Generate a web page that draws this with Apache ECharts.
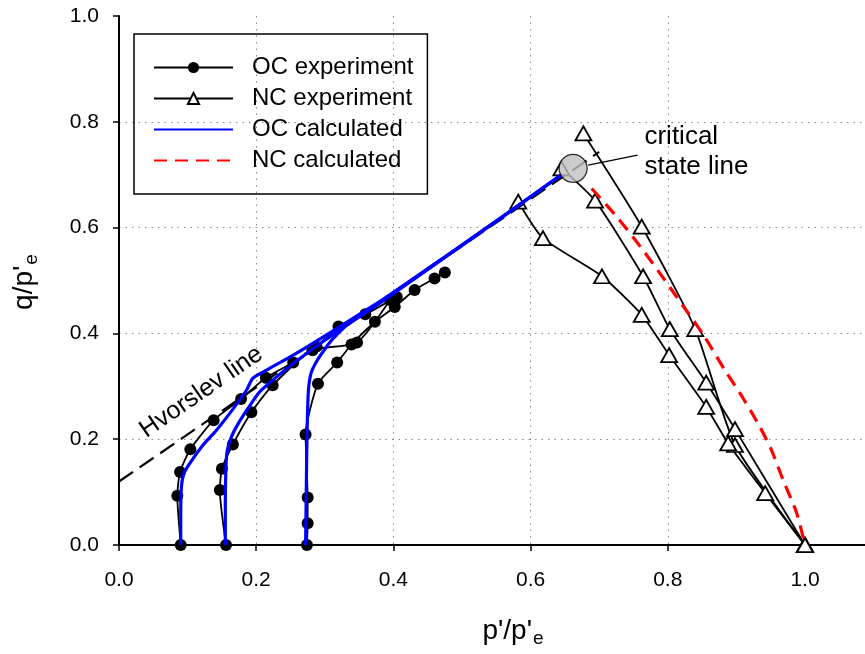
<!DOCTYPE html>
<html>
<head>
<meta charset="utf-8">
<script src="https://cdn.jsdelivr.net/npm/echarts@6/dist/echarts.min.js"></script>
<style>
  html, body { margin: 0; padding: 0; background: #fff; }
  #chart { width: 865px; height: 654px; }
</style>
</head>
<body>
<div id="chart"></div>
<script>
// Axis ticks
const xTicks = [0, 0.2, 0.4, 0.6, 0.8, 1.0];
const yTicks = [0, 0.2, 0.4, 0.6, 0.8, 1.0];
// visible end of the p'/p'e axis (the axis runs off the right edge)
const xEnd = 1.0875;

// Over-consolidated undrained tests: measured stress paths [p'/p'e, q/p'e]
const ocExpA = [[0.090,0],[0.085,0.093],[0.089,0.138],[0.104,0.181],[0.138,0.236],[0.178,0.276],[0.214,0.316],[0.254,0.345],[0.288,0.375],[0.320,0.413],[0.359,0.436],[0.405,0.469]];
const ocExpB = [[0.156,0],[0.147,0.104],[0.150,0.144],[0.166,0.190],[0.193,0.251],[0.224,0.302],[0.282,0.368],[0.347,0.383],[0.395,0.463]];
const ocExpC = [[0.274,0],[0.275,0.041],[0.275,0.090],[0.272,0.209],[0.290,0.305],[0.318,0.345],[0.339,0.379],[0.373,0.422],[0.402,0.450],[0.431,0.482],[0.460,0.504],[0.475,0.515]];

// Normally consolidated undrained tests: measured stress paths
const ncExp1 = [[1.0,0],[0.898,0.189],[0.840,0.408],[0.762,0.602],[0.677,0.778]];
const ncExp2 = [[1.0,0],[0.898,0.219],[0.856,0.307],[0.803,0.408],[0.764,0.508],[0.694,0.651],[0.645,0.712]];
const ncExp3 = [[1.0,0],[0.942,0.098],[0.888,0.192],[0.856,0.261],[0.802,0.359],[0.762,0.435],[0.704,0.508],[0.618,0.580],[0.582,0.649]];

// Model predictions
const ocCalcA = [[0.090,0],[0.090,0.060],[0.091,0.110],[0.094,0.133],[0.101,0.150],[0.120,0.185],[0.142,0.217],[0.165,0.255],[0.186,0.293],[0.195,0.315],[0.210,0.327],[0.254,0.359],[0.322,0.413],[0.395,0.473],[0.483,0.552],[0.560,0.622],[0.645,0.700]];
const ocCalcB = [[0.155,0],[0.155,0.080],[0.156,0.150],[0.158,0.180],[0.164,0.205],[0.174,0.230],[0.190,0.262],[0.2055,0.290],[0.254,0.343],[0.300,0.387],[0.337,0.420],[0.380,0.457],[0.483,0.551],[0.560,0.621],[0.645,0.700]];
const ocCalcC = [[0.272,0],[0.273,0.100],[0.274,0.200],[0.276,0.290],[0.280,0.325],[0.288,0.347],[0.300,0.370],[0.312,0.390],[0.337,0.421],[0.366,0.446],[0.420,0.495],[0.483,0.551],[0.560,0.621],[0.645,0.700]];
const ncCalc = [[0.689,0.674],[0.726,0.620],[0.760,0.564],[0.795,0.502],[0.825,0.447],[0.852,0.397],[0.883,0.331],[0.910,0.277],[0.934,0.224],[0.951,0.180],[0.968,0.123],[0.988,0.060],[1.0,0]];

// Reference lines and annotations
const hvorslevLine = [[0,0.12],[0.70,0.743]];
const criticalStatePoint = [[0.662,0.712]];
const cslLeader = [[0.684,0.718],[0.756,0.737]];
const cslLabelAt = [0.766, 0.800];
const hvorslevLabelAt = [0.120, 0.289];

const FONT = '"Liberation Sans", Arial, sans-serif';

const expLine = { color: '#000', width: 1.8 };
const ocSym = { symbol: 'circle', symbolSize: 12, itemStyle: { color: '#000', borderColor: '#000', borderWidth: 0 } };
const ncSym = { symbol: 'triangle', symbolSize: [16, 14], itemStyle: { color: '#fff', borderColor: '#000', borderWidth: 1.8 } };
const noMarker = { color: 'rgba(0,0,0,0)', borderColor: 'rgba(0,0,0,0)', borderWidth: 0 };

function expSeries(name, data, sym) {
  return Object.assign({
    name, type: 'line', data, smooth: 0.2, showAllSymbol: true,
    lineStyle: expLine, z: 2, animation: false
  }, sym);
}
function calcSeries(name, data, color, dash) {
  return {
    name, type: 'line', data, smooth: 0.25, symbol: 'none', z: 4, animation: false,
    itemStyle: { color },
    lineStyle: { color, width: 3.2, type: dash || 'solid' }
  };
}

const chart = echarts.init(document.getElementById('chart'), null, { renderer: 'canvas' });

chart.setOption({
  backgroundColor: '#fff',
  animation: false,
  textStyle: { fontFamily: FONT },
  grid: { left: 119, top: 16, bottom: 109, right: 0 },
  xAxis: {
    type: 'value', min: xTicks[0], max: xEnd, interval: 0.2,
    axisLine: { lineStyle: { color: '#000', width: 2 } },
    axisTick: { length: 6, customValues: xTicks, lineStyle: { color: '#000', width: 1.5 } },
    axisLabel: { color: '#000', fontSize: 21, margin: 25, fontFamily: FONT, customValues: xTicks,
      formatter: v => v.toFixed(1) },
    splitLine: { show: true, showMinLine: false, showMaxLine: false, lineStyle: { color: '#888', width: 1, type: [1.5, 5] } }
  },
  yAxis: {
    type: 'value', min: yTicks[0], max: yTicks[yTicks.length - 1], interval: 0.2,
    axisLine: { lineStyle: { color: '#000', width: 2 } },
    axisTick: { length: 6, lineStyle: { color: '#000', width: 1.5 } },
    axisLabel: { color: '#000', fontSize: 21, margin: 20, fontFamily: FONT, formatter: v => v.toFixed(1) },
    splitLine: { show: true, showMinLine: false, showMaxLine: false, lineStyle: { color: '#888', width: 1, type: [1.5, 5] } }
  },
  legend: {
    data: ['OC experiment', 'NC experiment',
      { name: 'OC calculated', itemStyle: noMarker },
      { name: 'NC calculated', itemStyle: noMarker }],
    orient: 'vertical', left: 134, top: 34,
    padding: [18, 14, 18, 19],
    borderColor: '#000', borderWidth: 1.5,
    itemWidth: 79, itemHeight: 14, itemGap: 0,
    selectedMode: false,
    textStyle: { fontSize: 24, color: '#000', fontFamily: FONT, lineHeight: 31, padding: [0, 0, 0, 14] }
  },
  series: [
    expSeries('OC experiment', ocExpA, ocSym),
    expSeries('OC experiment', ocExpB, ocSym),
    expSeries('OC experiment', ocExpC, ocSym),
    expSeries('NC experiment', ncExp1, ncSym),
    expSeries('NC experiment', ncExp2, ncSym),
    expSeries('NC experiment', ncExp3, ncSym),
    {
      name: 'Hvorslev', type: 'line', data: hvorslevLine, symbol: 'none', z: 3, animation: false,
      lineStyle: { color: '#000', width: 2.2, type: [17, 8] }
    },
    calcSeries('OC calculated', ocCalcA, '#0000ff'),
    calcSeries('OC calculated', ocCalcB, '#0000ff'),
    calcSeries('OC calculated', ocCalcC, '#0000ff'),
    calcSeries('NC calculated', ncCalc, '#ff0000', [13, 8]),
    {
      name: 'leader', type: 'line', data: cslLeader, symbol: 'none', z: 5, animation: false,
      lineStyle: { color: '#000', width: 1.3 }
    },
    {
      name: 'critical state', type: 'scatter', data: criticalStatePoint, symbol: 'circle', symbolSize: 28,
      z: 6, animation: false,
      itemStyle: { color: '#c0c0c0', borderColor: '#000', borderWidth: 1.3 }
    }
  ]
});

// Annotations and axis titles, placed from data coordinates
const cslPx = chart.convertToPixel({ gridIndex: 0 }, cslLabelAt);
const hvPx = chart.convertToPixel({ gridIndex: 0 }, hvorslevLabelAt);
const subRich = { s: { fontSize: 19, verticalAlign: 'bottom', padding: [16, 0, 0, 1], fontFamily: FONT, fill: '#000' } };

chart.setOption({
  graphic: [
    {
      type: 'text', x: cslPx[0], y: cslPx[1],
      style: { text: 'critical\nstate line', font: '26px ' + FONT, fill: '#000', lineHeight: 30,
        align: 'left', verticalAlign: 'top' }
    },
    {
      type: 'text', x: hvPx[0], y: hvPx[1], rotation: 34.5 * Math.PI / 180,
      style: { text: 'Hvorslev line', font: '25px ' + FONT, fill: '#000', align: 'center', verticalAlign: 'middle' }
    },
    {
      type: 'text', x: 513, y: 631,
      style: { text: "p'/p'{s|e}", align: 'center', verticalAlign: 'middle', font: '28px ' + FONT, fill: '#000', rich: subRich }
    },
    {
      type: 'text', x: 24, y: 282, rotation: Math.PI / 2,
      style: { text: "q/p'{s|e}", align: 'center', verticalAlign: 'middle', font: '28px ' + FONT, fill: '#000', rich: subRich }
    }
  ]
});
</script>
</body>
</html>
